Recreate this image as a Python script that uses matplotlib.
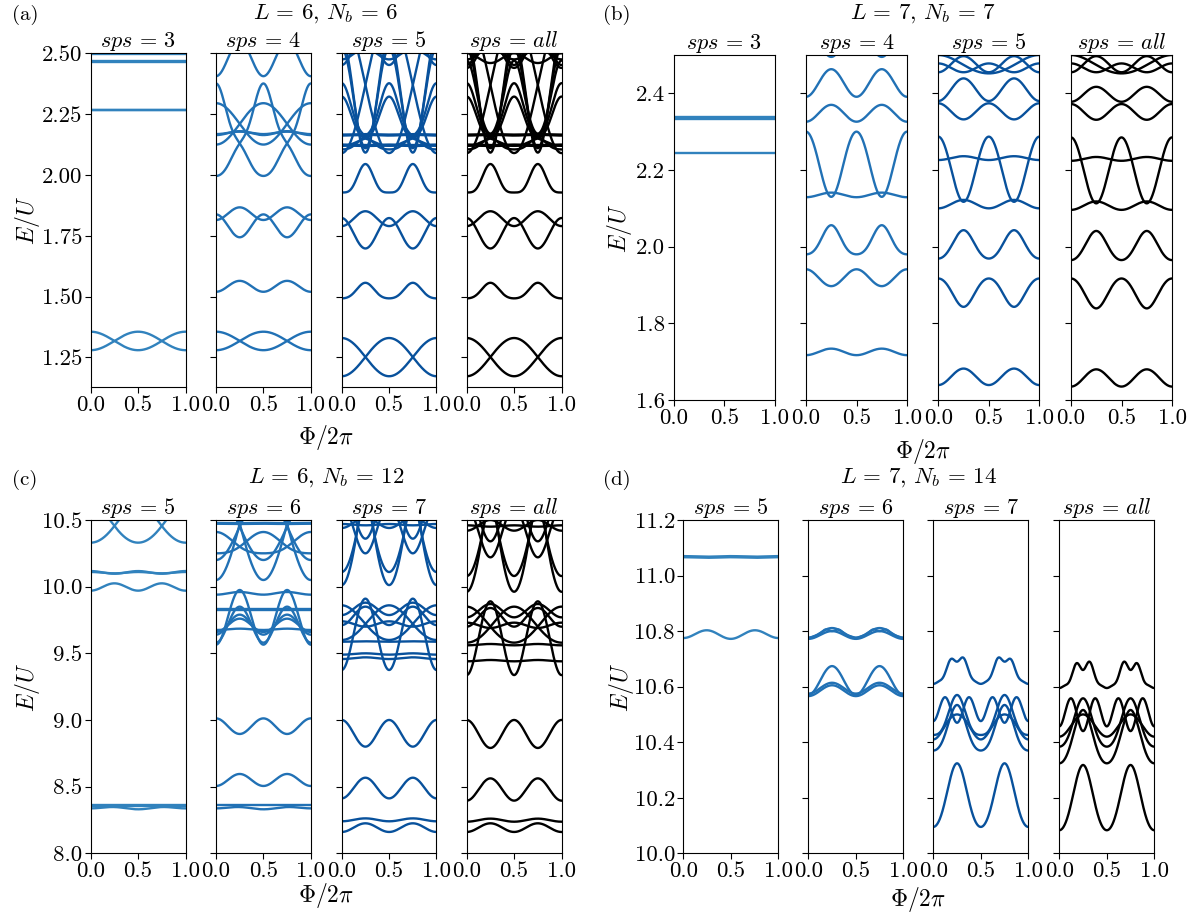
import numpy as np
import matplotlib
matplotlib.use("Agg")
import matplotlib.pyplot as plt
from matplotlib.ticker import FormatStrFormatter

plt.rcParams['font.family'] = 'serif'
plt.rcParams['font.serif'] = ['cmr10']
plt.rcParams['mathtext.fontset'] = 'cm'
plt.rcParams['axes.unicode_minus'] = False

# Each band: E/U read at evenly spaced flux points from 0 to 0.5 (mirrored to 1)
# (a) L=6, Nb=6
a_sps3 = [[2.498, 2.498, 2.498],
          [2.466, 2.466, 2.466], [2.470, 2.470, 2.470],
          [2.265, 2.265, 2.265], [2.269, 2.269, 2.269],
          [1.356, 1.318, 1.280], [1.280, 1.318, 1.356]]
a_sps4 = [[2.406, 2.55, 2.406],
          [2.376, 2.24, 2.13, 2.04, 1.996], [1.996, 2.04, 2.13, 2.24, 2.376],
          [2.295, 2.21, 2.125], [2.125, 2.21, 2.295],
          [2.164, 2.180, 2.164], [2.168, 2.178, 2.168],
          [1.815, 1.867, 1.815], [1.838, 1.744, 1.838],
          [1.520, 1.565, 1.520],
          [1.356, 1.318, 1.280], [1.280, 1.318, 1.356]]
a_sps5 = [[2.452, 2.60, 2.452], [2.475, 2.52, 2.475],
          [2.56, 2.092, 2.56], [2.52, 2.110, 2.52],
          [2.377, 2.25, 2.16, 2.12, 2.105], [2.105, 2.12, 2.16, 2.25, 2.377],
          [2.322, 2.22, 2.15, 2.13, 2.12], [2.12, 2.13, 2.15, 2.22, 2.322],
          [2.66, 2.37, 2.09], [2.09, 2.37, 2.66],
          [2.162, 2.165, 2.162], [2.166, 2.168, 2.166],
          [2.121, 2.119, 2.121], [2.125, 2.123, 2.125],
          [1.928, 1.958, 2.045, 1.958, 1.928],
          [1.790, 1.851, 1.790], [1.823, 1.698, 1.823],
          [1.493, 1.515, 1.557, 1.515, 1.493],
          [1.330, 1.252, 1.173], [1.173, 1.252, 1.330]]
a_all = a_sps5 + [[2.44, 2.56, 2.44], [2.47, 2.30, 2.17, 2.30, 2.47],
                  [2.50, 2.46, 2.50]]

# (b) L=7, Nb=7
b_sps3 = [[2.333, 2.333, 2.333], [2.337, 2.337, 2.337], [2.245, 2.245, 2.245]]
b_sps4 = [[2.58, 2.495, 2.58],
          [2.391, 2.463, 2.391],
          [2.326, 2.370, 2.326],
          [2.300, 2.220, 2.130, 2.220, 2.300],
          [2.129, 2.141, 2.129],
          [1.980, 2.007, 2.056, 2.007, 1.980],
          [1.941, 1.897, 1.941],
          [1.717, 1.734, 1.717]]
b_sps5 = [[2.478, 2.455, 2.478], [2.455, 2.497, 2.455], [2.50, 2.474, 2.452],
          [2.380, 2.439, 2.380],
          [2.374, 2.332, 2.374],
          [2.287, 2.205, 2.117, 2.205, 2.287],
          [2.226, 2.236, 2.226],
          [2.100, 2.122, 2.100],
          [1.969, 2.000, 2.043, 2.000, 1.969],
          [1.917, 1.885, 1.843, 1.885, 1.917],
          [1.639, 1.682, 1.639]]
b_all = [[2.478, 2.455, 2.478], [2.455, 2.497, 2.455], [2.50, 2.474, 2.452],
         [2.378, 2.417, 2.378],
         [2.372, 2.331, 2.372],
         [2.285, 2.200, 2.113, 2.200, 2.285],
         [2.224, 2.234, 2.224],
         [2.096, 2.118, 2.096],
         [1.965, 1.997, 2.041, 1.997, 1.965],
         [1.917, 1.882, 1.839, 1.882, 1.917],
         [1.635, 1.680, 1.635]]

# (c) L=6, Nb=12
c_sps5 = [[10.33, 10.455, 10.62], [10.62, 10.455, 10.33],
          [10.117, 10.097, 10.117], [10.110, 10.100, 10.110],
          [9.970, 10.025, 9.970],
          [8.362, 8.362, 8.362], [8.357, 8.357, 8.357],
          [8.337, 8.347, 8.330]]
c_sps6 = [[10.05, 10.47, 10.90], [10.90, 10.47, 10.05],
          [10.20, 10.45, 10.70], [10.70, 10.45, 10.20],
          [10.41, 10.30, 10.25], [10.25, 10.30, 10.41],
          [10.472, 10.470, 10.472], [10.478, 10.476, 10.478],
          [9.940, 9.960, 9.940],
          [9.832, 9.832, 9.832], [9.828, 9.828, 9.828],
          [9.565, 9.975, 9.565],
          [9.580, 9.850, 9.580],
          [9.640, 9.790, 9.640],
          [9.660, 9.760, 9.660],
          [9.675, 9.685, 9.675],
          [9.012, 8.895, 9.012],
          [8.505, 8.595, 8.505],
          [8.362, 8.362, 8.362],
          [8.337, 8.347, 8.330]]
c_sps7 = [[11.70, 10.86, 10.012], [10.012, 10.86, 11.70],
          [11.40, 10.75, 10.11], [10.11, 10.75, 11.40],
          [10.75, 10.36, 10.75], [10.62, 10.25, 10.62],
          [10.47, 10.46, 10.47], [10.44, 10.52, 10.44],
          [9.375, 9.91, 9.375],
          [9.457, 9.47, 9.457], [9.49, 9.50, 9.49], [9.587, 9.59, 9.587],
          [9.712, 9.85, 9.712], [9.74, 9.70, 9.74], [9.787, 9.88, 9.787],
          [9.86, 9.72, 9.60], [9.60, 9.72, 9.86],
          [9.0, 8.80, 9.0],
          [8.412, 8.567, 8.412],
          [8.24, 8.262, 8.24], [8.16, 8.225, 8.16]]
c_all = [[11.65, 10.83, 9.962], [9.962, 10.83, 11.65],
         [11.35, 10.72, 10.08], [10.08, 10.72, 11.35],
         [10.72, 10.34, 10.72], [10.60, 10.22, 10.60],
         [10.46, 10.45, 10.46], [10.42, 10.50, 10.42],
         [9.337, 9.89, 9.337],
         [9.44, 9.45, 9.44], [9.56, 9.57, 9.56],
         [9.70, 9.84, 9.70], [9.73, 9.69, 9.73], [9.77, 9.87, 9.77],
         [9.85, 9.70, 9.58], [9.58, 9.70, 9.85],
         [9.0, 8.79, 9.0],
         [8.395, 8.562, 8.395],
         [8.237, 8.26, 8.237], [8.16, 8.225, 8.16]]

# (d) L=7, Nb=14
d_sps5 = [[11.066, 11.064, 11.066], [11.070, 11.068, 11.070],
          [10.775, 10.803, 10.772]]
d_sps6 = [[10.776, 10.811, 10.776],
          [10.772, 10.800, 10.772],
          [10.776, 10.782, 10.792, 10.806, 10.800, 10.806, 10.792, 10.782, 10.776],
          [10.570, 10.674, 10.570],
          [10.575, 10.614, 10.575],
          [10.566, 10.605, 10.566]]
d_sps7 = [[10.610, 10.620, 10.650, 10.700, 10.690, 10.705, 10.655, 10.620, 10.610],
          [10.476, 10.562, 10.47, 10.562, 10.476],
          [10.426, 10.47, 10.57, 10.47, 10.426],
          [10.370, 10.43, 10.534, 10.43, 10.370],
          [10.41, 10.46, 10.50, 10.46, 10.41],
          [10.095, 10.19, 10.324, 10.19, 10.095]]
d_all = [[10.595, 10.605, 10.635, 10.685, 10.66, 10.69, 10.64, 10.605, 10.595],
         [10.457, 10.558, 10.44, 10.558, 10.457],
         [10.384, 10.45, 10.558, 10.45, 10.384],
         [10.324, 10.40, 10.516, 10.40, 10.324],
         [10.42, 10.46, 10.50, 10.46, 10.42],
         [10.083, 10.18, 10.318, 10.18, 10.083]]

group_titles = [r'$L\,=\,6,\,N_b\,=\,6$', r'$L\,=\,7,\,N_b\,=\,7$',
                r'$L\,=\,6,\,N_b\,=\,12$', r'$L\,=\,7,\,N_b\,=\,14$']
group_labels = ['(a)', '(b)', '(c)', '(d)']
sps_names = [['3', '4', '5', 'all'], ['3', '4', '5', 'all'],
             ['5', '6', '7', 'all'], ['5', '6', '7', 'all']]
y_limits = [(1.13, 2.50), (1.6, 2.5), (8.0, 10.5), (10.0, 11.2)]
y_ticks = [[1.25, 1.50, 1.75, 2.00, 2.25, 2.50],
           [1.6, 1.8, 2.0, 2.2, 2.4],
           [8.0, 8.5, 9.0, 9.5, 10.0, 10.5],
           [10.0, 10.2, 10.4, 10.6, 10.8, 11.0, 11.2]]
y_fmt = ['%.2f', '%.1f', '%.1f', '%.1f']
bands = [[a_sps3, a_sps4, a_sps5, a_all],
         [b_sps3, b_sps4, b_sps5, b_all],
         [c_sps5, c_sps6, c_sps7, c_all],
         [d_sps5, d_sps6, d_sps7, d_all]]
colors = ['#3182bd', '#2171b5', '#08519c', 'black']

# layout in pixels (x of left edges, width, top, bottom)
W, H = 1195, 919
lefts = [[90.7, 216.0, 341.7, 466.7], [673.7, 806.0, 938.3, 1071.0],
         [90.7, 216.0, 341.7, 466.7], [683.3, 808.3, 933.3, 1059.3]]
widths = [94.8, 101.0, 94.8, 95.0]
tops = [53.3, 55.0, 520.0, 520.0]
bottoms = [386.7, 400.0, 853.3, 853.3]
label_xy = [(12, 15), (603, 15), (12, 480), (603, 480)]
title_xy = [(326, 14), (923, 14), (326, 478), (918, 478)]
xlabel_xy = [(326, 437), (923, 451), (326, 896), (918, 900)]
ylabel_xy = [(27, 220), (619, 228), (27, 687), (621, 687)]


def band_curve(vals, phi):
    # cosine series through the read points (symmetric about 0.5)
    n = len(vals) - 1
    grid = np.linspace(0, 0.5, n + 1)
    k = np.arange(n + 1)
    coef = np.linalg.solve(np.cos(2 * np.pi * np.outer(grid, k)), np.array(vals))
    return np.cos(2 * np.pi * np.outer(phi, k)) @ coef


fig = plt.figure(figsize=(W / 100, H / 100), dpi=100)
phi = np.linspace(0, 1, 600)

for g in range(4):
    for j in range(4):
        ax = fig.add_axes([lefts[g][j] / W, 1 - bottoms[g] / H,
                           widths[g] / W, (bottoms[g] - tops[g]) / H])
        for vals in bands[g][j]:
            ax.plot(phi, band_curve(vals, phi), color=colors[j], lw=1.7)
        ax.set_xlim(0, 1)
        ax.set_ylim(*y_limits[g])
        ax.set_yticks(y_ticks[g])
        ax.yaxis.set_major_formatter(FormatStrFormatter(y_fmt[g]))
        ax.set_xticks([0, 0.5, 1.0])
        ax.set_xticklabels(['0.0', '0.5', '1.0'])
        ax.tick_params(labelsize=16.5, length=4, width=0.8, pad=2)
        if j > 0:
            ax.tick_params(labelleft=False)
        for s in ax.spines.values():
            s.set_linewidth(0.8)
        ax.set_title(r'$sps\,=\,%s$' % sps_names[g][j], fontsize=16, pad=3)

    fig.text(label_xy[g][0] / W, 1 - label_xy[g][1] / H, group_labels[g],
             fontsize=15, ha='left', va='center')
    fig.text(title_xy[g][0] / W, 1 - title_xy[g][1] / H, group_titles[g],
             fontsize=16.5, ha='center', va='center')
    fig.text(xlabel_xy[g][0] / W, 1 - xlabel_xy[g][1] / H, r'$\Phi/2\pi$',
             fontsize=17, ha='center', va='center')
    fig.text(ylabel_xy[g][0] / W, 1 - ylabel_xy[g][1] / H, r'$E/U$',
             fontsize=17, ha='center', va='center', rotation=90)

fig.savefig('out.png', dpi=100)
